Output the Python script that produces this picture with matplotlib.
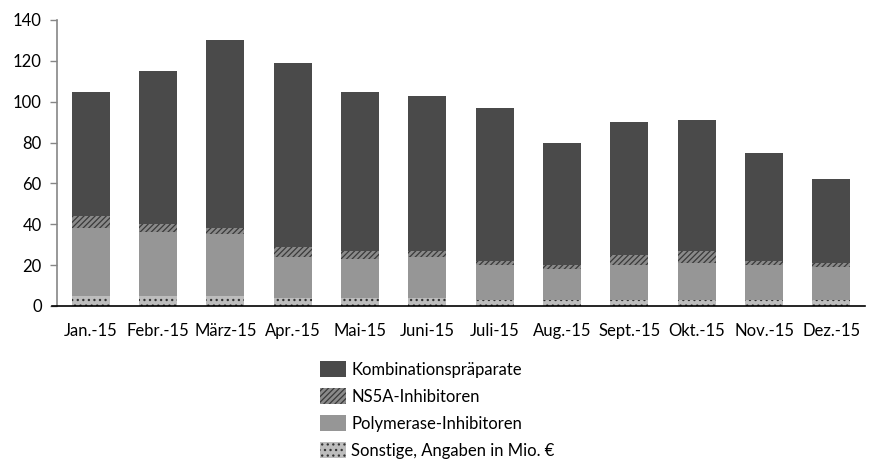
import matplotlib
matplotlib.use("Agg")
import matplotlib.pyplot as plt
import numpy as np

months = ["Jan.-15", "Febr.-15", "März-15", "Apr.-15", "Mai-15", "Juni-15",
          "Juli-15", "Aug.-15", "Sept.-15", "Okt.-15", "Nov.-15", "Dez.-15"]
sonstige = [5, 5, 5, 4, 4, 4, 3, 3, 3, 3, 3, 3]
polymerase = [33, 31, 30, 20, 19, 20, 17, 15, 17, 18, 17, 16]
ns5a = [6, 4, 3, 5, 4, 3, 2, 2, 5, 6, 2, 2]
kombination = [61, 75, 92, 90, 78, 76, 75, 60, 65, 64, 53, 41]
yticks = [0, 20, 40, 60, 80, 100, 120, 140]

labels = ["Kombinationspräparate", "NS5A-Inhibitoren", "Polymerase-Inhibitoren",
          "Sonstige, Angaben in Mio. €"]

plt.rcParams['font.family'] = ['Lato', 'DejaVu Sans']
plt.rcParams['hatch.linewidth'] = 0.9

fig = plt.figure(figsize=(8.72, 4.59), dpi=100)
ax = fig.add_axes([57/872, 1-306/459, (865-57)/872, (306-20)/459])

x = np.arange(len(months))
w = 0.56
b1 = np.array(sonstige, float)
b2 = b1 + np.array(polymerase)
b3 = b2 + np.array(ns5a)

h_s = ax.bar(x, sonstige, w, color='#bdbdbd', edgecolor='#333333', linewidth=0, hatch='...')
h_p = ax.bar(x, polymerase, w, bottom=b1, color='#969696', linewidth=0)
h_n = ax.bar(x, ns5a, w, bottom=b2, color='#8a8a8a', edgecolor='#3a3a3a', linewidth=0, hatch='//////')
h_k = ax.bar(x, kombination, w, bottom=b3, color='#4a4a4a', linewidth=0)

ax.set_xlim(-0.5, 11.5)
ax.set_ylim(0, 140)
ax.set_yticks(yticks)
ax.set_xticks(x)
ax.set_xticklabels(months)
ax.tick_params(axis='x', length=0, pad=12, labelsize=12)
ax.tick_params(axis='y', length=5, width=1, color='#868686', labelsize=12, pad=6)
for s in ['top', 'right']:
    ax.spines[s].set_visible(False)
ax.spines['left'].set_color('#868686')
ax.spines['left'].set_linewidth(1.2)
ax.spines['bottom'].set_color('black')
ax.spines['bottom'].set_linewidth(1.2)
ax.spines['bottom'].set_bounds(-0.575, 11.5)

leg = fig.legend([h_k, h_n, h_p, h_s], labels, loc='upper left',
                 bbox_to_anchor=(320/872, 1-361/459), frameon=False,
                 fontsize=12, handlelength=1.55, handleheight=1.1,
                 handletextpad=0.33, labelspacing=0.62, borderpad=0, borderaxespad=0)

fig.savefig("out.png", dpi=100)
